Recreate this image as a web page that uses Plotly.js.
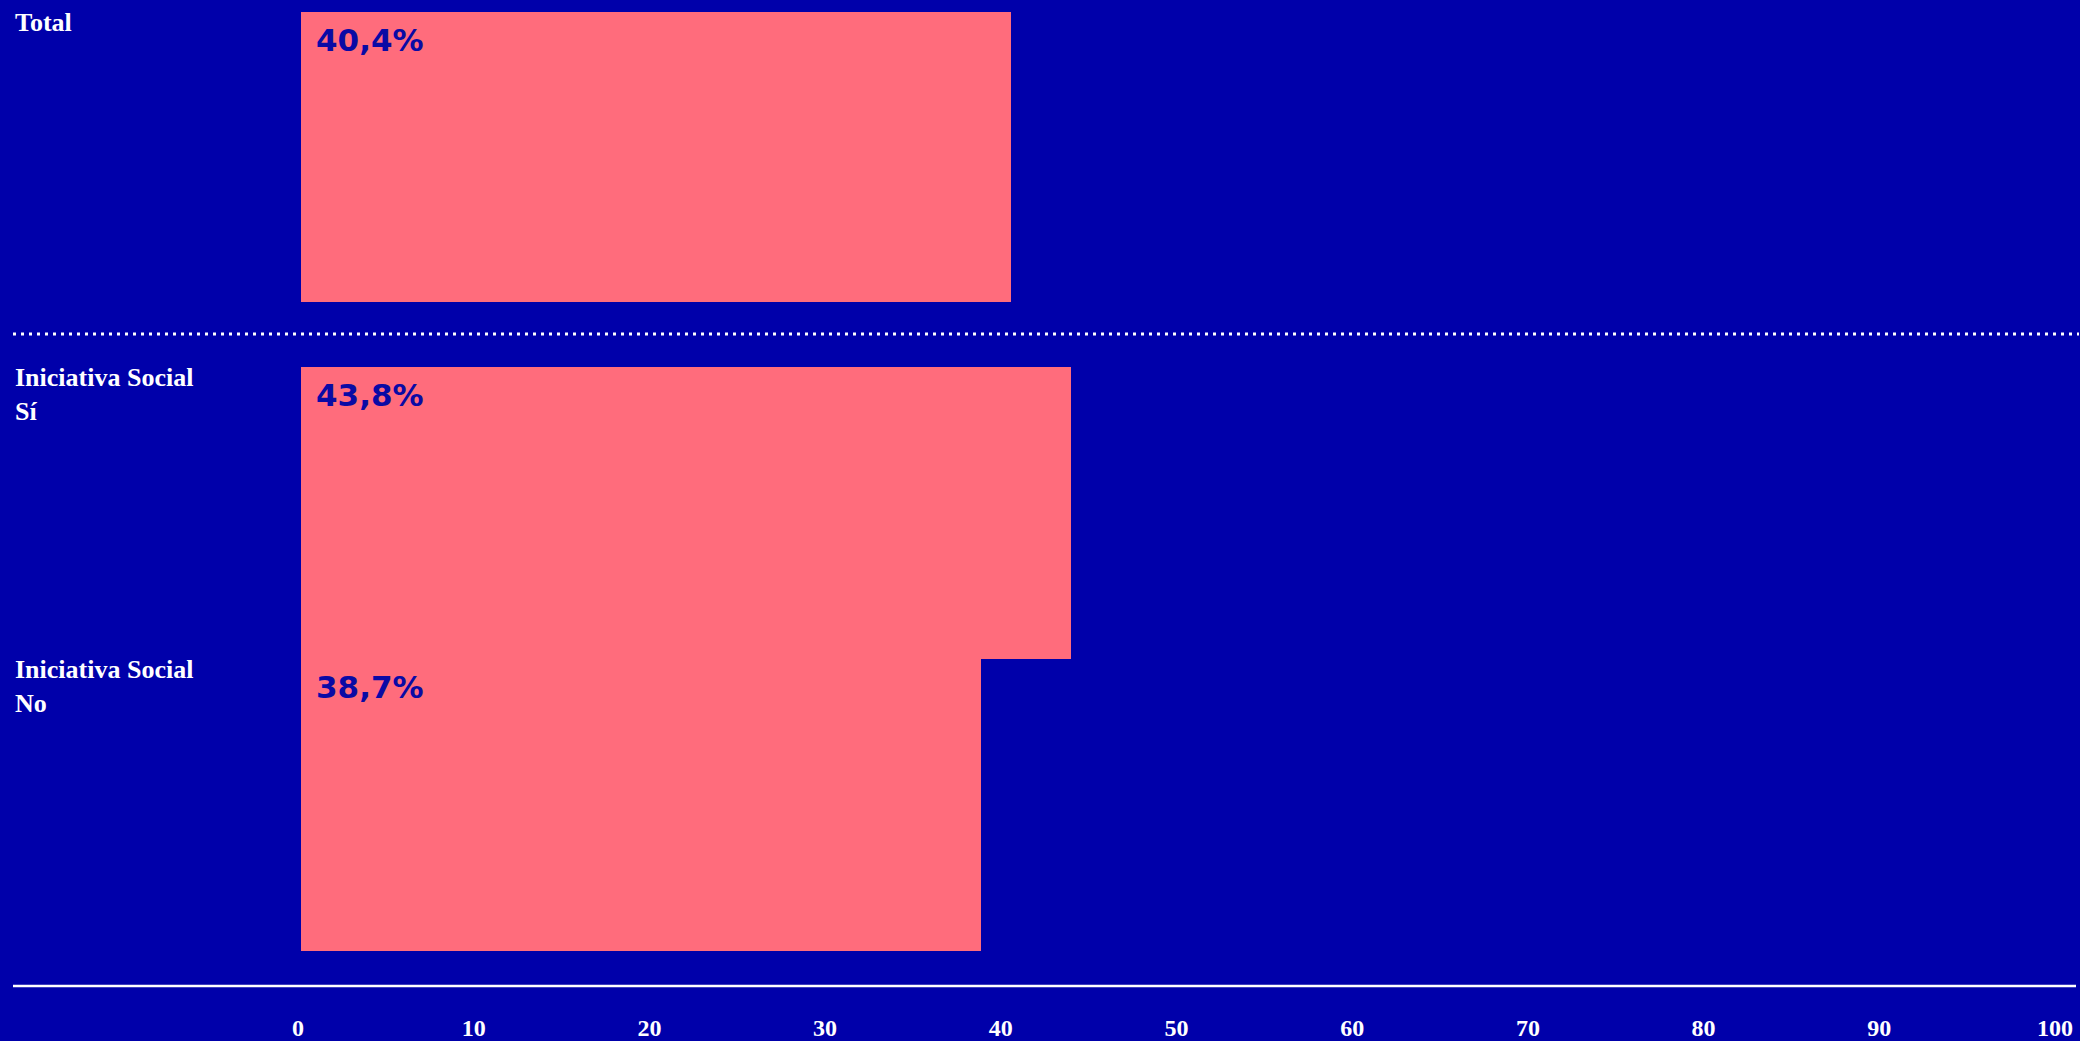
<!DOCTYPE html>
<html>
<head>
<meta charset="utf-8">
<script src="https://cdn.plot.ly/plotly-3.0.1.min.js"></script>
<style>
  html, body { margin: 0; padding: 0; background: #0000aa; }
  #chart { width: 2080px; height: 1041px; }
</style>
</head>
<body>
<div id="chart"></div>
<script>
// ---- data ----
const totalCategory = ["Total"];
const totalValues = [40.4];
const groupCategories = ["Iniciativa Social<br>Sí", "Iniciativa Social<br>No"];
const groupValues = [43.8, 38.7];
const xTickValues = [0, 10, 20, 30, 40, 50, 60, 70, 80, 90, 100];
const xTickLabels = ["0", "10", "20", "30", "40", "50", "60", "70", "80", "90", "100"];

// ---- style ----
const BG = "#0000aa";
const BAR = "#ff6c7c";
const LABEL_BLUE = "#0a0aa5";
const W = 2080, H = 1041;
const serif = "Liberation Serif, DejaVu Serif, serif";
const sans = "DejaVu Sans, Inter, sans-serif";
const fmt = v => v.toFixed(1).replace(".", ",") + "%";

const traces = [
  {
    type: "bar", orientation: "h",
    x: totalValues, y: totalCategory,
    xaxis: "x", yaxis: "y",
    width: 1, marker: { color: BAR, line: { width: 0 } },
    hoverinfo: "skip"
  },
  {
    type: "bar", orientation: "h",
    x: groupValues, y: groupCategories,
    xaxis: "x", yaxis: "y2",
    width: 1, marker: { color: BAR, line: { width: 0 } },
    hoverinfo: "skip"
  }
];

const px2y = p => (H - p) / H;

const annotations = [];
function addLabels(cats, vals, yref, halfPx) {
  cats.forEach((c, i) => {
    annotations.push({
      xref: "paper", yref: yref, x: 13 / W, y: c,
      xanchor: "left", yanchor: "top", align: "left",
      yshift: halfPx + 6, showarrow: false,
      text: c, font: { family: serif, size: 26, color: "#ffffff", weight: 700 }
    });
    annotations.push({
      xref: "x", yref: yref, x: 0, y: c,
      xanchor: "left", yanchor: "top", align: "left",
      xshift: 13, yshift: halfPx - 8, showarrow: false,
      text: fmt(vals[i]), font: { family: sans, size: 31, color: LABEL_BLUE, weight: 700 }
    });
  });
}
addLabels(totalCategory, totalValues, "y", 145);
addLabels(groupCategories, groupValues, "y2", 146);

const layout = {
  width: W, height: H,
  margin: { l: 0, r: 0, t: 0, b: 0, pad: 0 },
  paper_bgcolor: BG, plot_bgcolor: BG,
  showlegend: false,
  bargap: 0,
  xaxis: {
    domain: [301 / W, 2058 / W],
    range: [0, 100],
    anchor: "free", position: px2y(1011),
    tickvals: xTickValues, ticktext: xTickLabels,
    ticks: "", showgrid: false, zeroline: false, showline: false,
    ticklabelshift: -3,
    tickfont: { family: serif, size: 24, color: "#ffffff", weight: 700 },
    fixedrange: true
  },
  yaxis: {
    domain: [px2y(302), px2y(12)],
    range: [-0.5, 0.5],
    type: "category",
    showticklabels: false, ticks: "", showgrid: false, zeroline: false, showline: false,
    fixedrange: true
  },
  yaxis2: {
    domain: [px2y(951), px2y(367)],
    range: [1.5, -0.5],
    type: "category",
    categoryorder: "array", categoryarray: groupCategories,
    showticklabels: false, ticks: "", showgrid: false, zeroline: false, showline: false,
    fixedrange: true
  },
  shapes: [
    {
      type: "line", xref: "paper", yref: "paper",
      x0: 13 / W, x1: 2079 / W, y0: px2y(334), y1: px2y(334),
      line: { color: "#ffffff", width: 3, dash: "3px,5px" }
    },
    {
      type: "line", xref: "paper", yref: "paper",
      x0: 13 / W, x1: 2076 / W, y0: px2y(986), y1: px2y(986),
      line: { color: "#ffffff", width: 2.5 }
    }
  ],
  annotations: annotations
};

Plotly.newPlot("chart", traces, layout, { displayModeBar: false, staticPlot: true });
</script>
</body>
</html>
